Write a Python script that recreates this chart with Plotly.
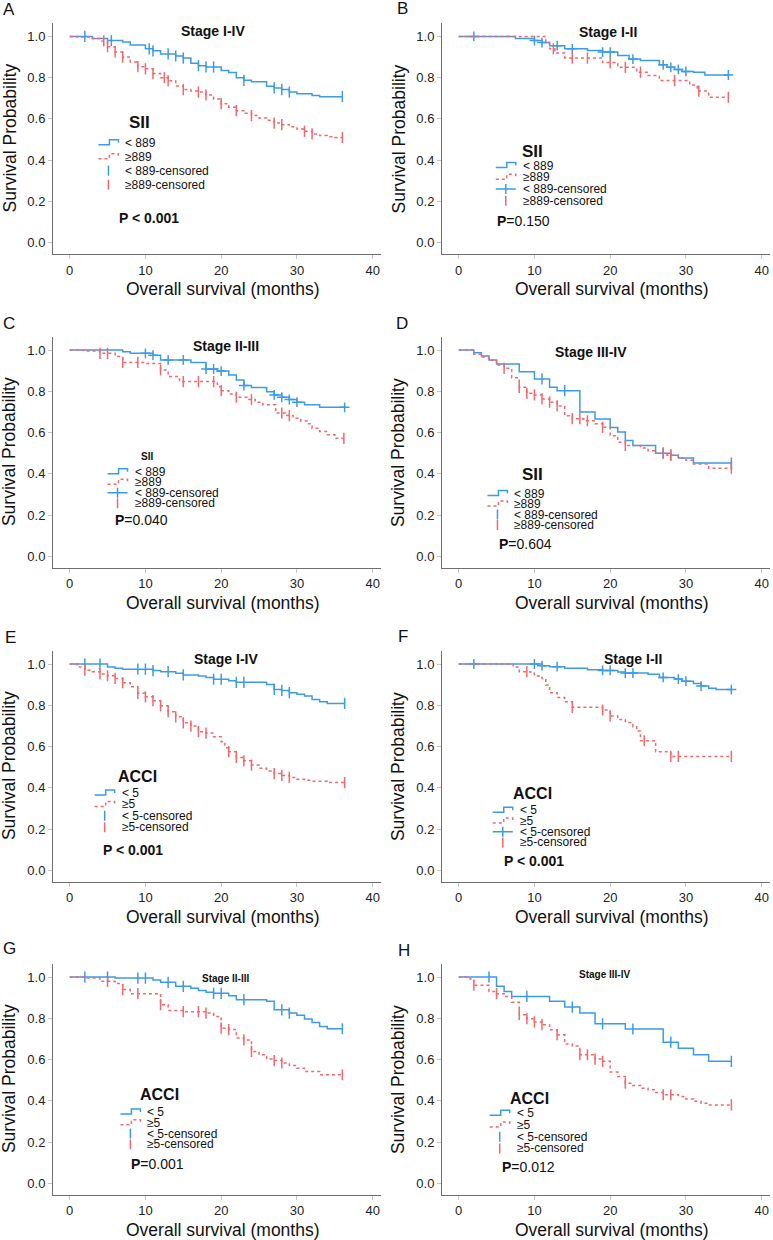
import plotly.graph_objects as go

BLUE = "#3d9be6"
RED = "#f2686c"
FONT = "Arial, 'Liberation Sans', sans-serif"

# ---- A: SII, stage I-IV ----
a_lo_t = [3, 5, 7, 8, 10, 11, 12, 14, 15, 16, 17, 18, 20, 21, 22, 23, 24, 26, 27, 28, 29, 30, 32, 33]
a_lo_s = [0.99, 0.98, 0.973, 0.958, 0.94, 0.93, 0.915, 0.905, 0.895, 0.87, 0.858, 0.852, 0.835, 0.825,
          0.80, 0.787, 0.78, 0.758, 0.75, 0.742, 0.73, 0.722, 0.714, 0.708]
a_lo_c = [2, 5.5, 10.5, 11, 13, 14, 15, 17, 18, 19, 23, 27, 28, 29, 36]
a_hi_t = [1, 3, 4, 5, 6, 7, 8, 9, 10, 11, 12, 13, 14, 15, 16, 17, 18, 19, 20, 21, 22, 23, 24, 25, 26,
          27, 28, 29, 30, 31, 32, 33, 34, 35]
a_hi_s = [0.997, 0.99, 0.978, 0.95, 0.925, 0.90, 0.876, 0.853, 0.843, 0.82, 0.80, 0.785, 0.76, 0.742,
          0.735, 0.73, 0.716, 0.697, 0.674, 0.657, 0.64, 0.627, 0.616, 0.605, 0.593, 0.58, 0.572,
          0.562, 0.551, 0.54, 0.527, 0.519, 0.514, 0.51]
a_hi_c = [4.5, 5, 6, 7, 9, 10, 11, 12.5, 13, 15, 17, 18, 20, 22, 24, 27, 28, 31, 32, 36]

# ---- B: SII, stage I-II ----
b_lo_t = [7.5, 10, 11, 12, 14, 17, 19, 21, 22.5, 24, 26.5, 27.5, 28.5, 29.5, 31, 32.5]
b_lo_s = [0.99, 0.98, 0.97, 0.955, 0.94, 0.932, 0.924, 0.908, 0.89, 0.883, 0.862, 0.85, 0.84, 0.83,
          0.826, 0.813]
b_lo_c = [2, 10, 11, 13, 15, 19, 20, 23, 27, 28, 29, 30, 35.6]
b_hi_t = [11.5, 12, 12.7, 14, 19, 21, 23.5, 25, 26.5, 30.5, 31.5, 33]
b_hi_s = [0.97, 0.94, 0.92, 0.895, 0.873, 0.85, 0.826, 0.81, 0.786, 0.765, 0.735, 0.705]
b_hi_c = [12.5, 15, 17, 20, 22, 24, 28.5, 31.7, 35.6]

# ---- C: SII, stage II-III ----
c_lo_t = [7, 8, 11, 12, 16, 18, 19.5, 21, 22, 23, 24, 26, 27, 28, 29, 30, 31, 33]
c_lo_s = [0.992, 0.984, 0.975, 0.952, 0.94, 0.908, 0.898, 0.879, 0.855, 0.828, 0.818, 0.798, 0.782,
          0.771, 0.76, 0.747, 0.734, 0.722]
c_lo_c = [10, 11, 13, 15, 18, 19, 20, 23, 27, 28, 29, 30, 36.3]
c_hi_t = [2, 4, 6, 7, 10, 12, 13, 14.5, 19.5, 20, 21, 22, 23.5, 24.5, 25.5, 27.2, 28.5, 29.5, 30.5,
          31.5, 32, 33, 34, 35]
c_hi_s = [0.995, 0.984, 0.968, 0.94, 0.935, 0.903, 0.871, 0.847, 0.822, 0.803, 0.787, 0.771, 0.76,
          0.747, 0.734, 0.694, 0.682, 0.669, 0.656, 0.642, 0.621, 0.605, 0.589, 0.572]
c_hi_c = [4, 5, 7, 9, 12, 15, 17, 19, 20, 22, 24, 28, 29, 36.2]

# ---- D: SII, stage III-IV ----
d_lo_t = [2, 3, 4, 5, 8, 10, 12, 13, 16, 18, 20, 21, 22, 23, 26, 28, 29, 31]
d_lo_s = [0.987, 0.971, 0.952, 0.932, 0.895, 0.86, 0.82, 0.803, 0.70, 0.666, 0.624, 0.602, 0.561,
          0.537, 0.50, 0.49, 0.476, 0.452]
d_lo_c = [11, 14, 27, 28, 36]
d_hi_t = [2, 3, 4, 5, 6, 7, 8, 9, 10, 11, 12, 13, 14, 15, 16.5, 18, 19, 20, 21, 22, 24, 25, 26, 27.5,
          29, 30, 31, 33]
d_hi_s = [0.98, 0.966, 0.95, 0.927, 0.911, 0.866, 0.819, 0.79, 0.782, 0.763, 0.747, 0.729, 0.681,
          0.667, 0.657, 0.642, 0.625, 0.584, 0.553, 0.537, 0.525, 0.512, 0.50, 0.49, 0.476, 0.465,
          0.447, 0.427]
d_hi_c = [6, 8, 9, 10, 11, 12, 13, 15, 16, 17, 19, 22, 27, 28, 36]

# ---- E: ACCI, stage I-IV ----
e_lo_t = [5, 6, 7, 11, 12, 14, 15, 17, 18, 19, 21, 22, 26, 27, 28, 29, 30, 31, 32, 33, 34]
e_lo_s = [0.985, 0.98, 0.975, 0.968, 0.963, 0.955, 0.947, 0.942, 0.935, 0.926, 0.919, 0.911, 0.901,
          0.877, 0.872, 0.861, 0.853, 0.845, 0.828, 0.817, 0.809]
e_lo_c = [2, 4, 9, 10, 11, 13, 15, 19, 20, 22, 23, 27, 28, 29, 36.3]
e_hi_t = [1, 2, 3, 4, 5, 6, 7, 8, 9, 10, 11, 12, 13, 14, 15, 16, 17, 18, 19, 20, 20.5, 21, 22, 23, 24,
          25, 26, 27, 28, 29, 30, 31, 32, 34]
e_hi_s = [0.985, 0.97, 0.963, 0.952, 0.943, 0.93, 0.909, 0.89, 0.858, 0.841, 0.822, 0.798, 0.769,
          0.744, 0.715, 0.699, 0.672, 0.665, 0.647, 0.623, 0.594, 0.575, 0.547, 0.531, 0.51, 0.494,
          0.481, 0.469, 0.46, 0.45, 0.441, 0.436, 0.432, 0.425]
e_hi_c = [2, 4, 5, 6, 7, 9, 10, 11, 12, 13, 14, 15, 16, 17, 18, 21, 22, 23, 24, 27, 28, 29, 36.3]

# ---- F: ACCI, stage I-II ----
f_lo_t = [11, 12, 14, 17, 19, 21, 22, 25, 26.5, 28.5, 29.5, 31, 32, 33, 34]
f_lo_s = [0.992, 0.987, 0.98, 0.972, 0.969, 0.961, 0.956, 0.95, 0.935, 0.927, 0.917, 0.906, 0.893,
          0.882, 0.876]
f_lo_c = [2, 10, 11, 13, 19, 20, 22, 23, 27, 29, 30, 32, 36]
f_hi_t = [7.2, 8, 9.5, 10, 11, 11.5, 12, 13, 14, 15, 19, 20, 21, 22, 23, 23.5, 24, 26, 28]
f_hi_s = [0.985, 0.963, 0.955, 0.942, 0.93, 0.898, 0.861, 0.838, 0.817, 0.79, 0.777, 0.748, 0.731,
          0.717, 0.696, 0.675, 0.628, 0.574, 0.552]
f_hi_c = [9, 15, 19, 20, 24.5, 28, 29, 36]

# ---- G: ACCI, stage II-III ----
g_lo_t = [6, 11, 12, 14, 16, 17, 18, 19, 21, 22, 26, 27, 29, 30, 31, 32, 33, 34]
g_lo_s = [0.995, 0.985, 0.974, 0.955, 0.945, 0.935, 0.926, 0.921, 0.909, 0.89, 0.882, 0.841, 0.825,
          0.814, 0.796, 0.78, 0.76, 0.749]
g_lo_c = [2, 5, 9, 10, 13, 15, 19, 20, 23, 28, 29, 36]
g_hi_t = [2, 4, 6, 7, 8, 12, 13, 15, 18, 19, 20, 21, 22, 23, 24, 25, 26, 27, 28, 29, 30, 31, 33]
g_hi_s = [0.995, 0.979, 0.968, 0.939, 0.919, 0.866, 0.838, 0.832, 0.825, 0.809, 0.752, 0.745, 0.704,
          0.695, 0.639, 0.623, 0.602, 0.595, 0.583, 0.571, 0.558, 0.542, 0.526]
g_hi_c = [5, 7, 9, 12, 15, 17, 18, 20, 21, 23, 24, 27, 28, 36]

# ---- H: ACCI, stage III-IV ----
h_lo_t = [5, 6, 7, 12, 14, 16, 18, 22, 27, 29, 31, 33]
h_lo_s = [0.955, 0.93, 0.906, 0.882, 0.854, 0.825, 0.773, 0.748, 0.684, 0.655, 0.623, 0.591]
h_lo_c = [4, 9, 15, 19, 23, 28, 36]
h_hi_t = [1.5, 2, 4, 5, 6, 7, 8, 9, 10, 11, 12, 13, 14, 15, 16, 18, 19, 20, 21, 22, 23, 24, 25, 26,
          27, 29, 30, 31, 32, 33]
h_hi_s = [0.99, 0.96, 0.93, 0.919, 0.905, 0.877, 0.817, 0.798, 0.782, 0.769, 0.744, 0.72, 0.675,
          0.665, 0.623, 0.602, 0.591, 0.539, 0.518, 0.485, 0.474, 0.461, 0.453, 0.44, 0.429, 0.421,
          0.409, 0.397, 0.388, 0.38]
h_hi_c = [2, 5, 8, 9, 10, 11, 13, 16, 17, 18, 19, 22, 27, 28, 36]

sii_labels = ["< 889", "\u2265889", "< 889-censored", "\u2265889-censored"]
acci_labels = ["< 5", "\u22655", "< 5-censored", "\u22655-censored"]

x_ticks = [0, 10, 20, 30, 40]
y_ticks = [0.0, 0.2, 0.4, 0.6, 0.8, 1.0]

# layout of each panel (positions in data units of that panel)
panels = [
    dict(label="A", lo=(a_lo_t, a_lo_s, a_lo_c), hi=(a_hi_t, a_hi_s, a_hi_c), cross=False,
         stage="Stage I-IV", stage_pos=(18.9, 1.024), stage_size=14,
         var="SII", var_pos=(9.2, 0.583), var_size=17, labels=sii_labels,
         leg=(7.1, 0.485, 0.068), p="<b>P < 0.001</b>", p_pos=(6.2, 0.121), lab_px=(9, 10)),
    dict(label="B", lo=(b_lo_t, b_lo_s, b_lo_c), hi=(b_hi_t, b_hi_s, b_hi_c), cross=True,
         stage="Stage I-II", stage_pos=(19.7, 1.02), stage_size=14,
         var="SII", var_pos=(9.8, 0.44), var_size=17, labels=sii_labels,
         leg=(8.2, 0.374, 0.057), p="<b>P</b>=0.150", p_pos=(4.75, 0.107), lab_px=(402, 8)),
    dict(label="C", lo=(c_lo_t, c_lo_s, c_lo_c), hi=(c_hi_t, c_hi_s, c_hi_c), cross=True,
         stage="Stage II-III", stage_pos=(20.7, 1.019), stage_size=14,
         var="SII", var_pos=(10.2, 0.483), var_size=10, labels=sii_labels,
         leg=(8.3, 0.41, 0.051), p="<b>P</b>=0.040", p_pos=(5.7, 0.174), lab_px=(9, 323)),
    dict(label="D", lo=(d_lo_t, d_lo_s, d_lo_c), hi=(d_hi_t, d_hi_s, d_hi_c), cross=False,
         stage="Stage III-IV", stage_pos=(17.5, 0.99), stage_size=14,
         var="SII", var_pos=(9.8, 0.396), var_size=17, labels=sii_labels,
         leg=(7.1, 0.304, 0.051), p="<b>P</b>=0.604", p_pos=(5.0, 0.058), lab_px=(402, 323)),
    dict(label="E", lo=(e_lo_t, e_lo_s, e_lo_c), hi=(e_hi_t, e_hi_s, e_hi_c), cross=False,
         stage="Stage I-IV", stage_pos=(20.7, 1.024), stage_size=14,
         var="ACCI", var_pos=(8.9, 0.456), var_size=16, labels=acci_labels,
         leg=(6.6, 0.374, 0.055), p="<b>P < 0.001</b>", p_pos=(4.2, 0.097), lab_px=(10, 637)),
    dict(label="F", lo=(f_lo_t, f_lo_s, f_lo_c), hi=(f_hi_t, f_hi_s, f_hi_c), cross=True,
         stage="Stage I-II", stage_pos=(23.0, 1.024), stage_size=14,
         var="ACCI", var_pos=(9.8, 0.374), var_size=16, labels=acci_labels,
         leg=(7.8, 0.291, 0.052), p="<b>P < 0.001</b>", p_pos=(5.7, 0.044), lab_px=(403, 636)),
    dict(label="G", lo=(g_lo_t, g_lo_s, g_lo_c), hi=(g_hi_t, g_hi_s, g_hi_c), cross=False,
         stage="Stage II-III", stage_pos=(20.6, 0.995), stage_size=10,
         var="ACCI", var_pos=(11.9, 0.432), var_size=16, labels=acci_labels,
         leg=(10.0, 0.345, 0.052), p="<b>P</b>=0.001", p_pos=(7.8, 0.092), lab_px=(9, 948)),
    dict(label="H", lo=(h_lo_t, h_lo_s, h_lo_c), hi=(h_hi_t, h_hi_s, h_hi_c), cross=False,
         stage="Stage III-IV", stage_pos=(19.3, 1.01), stage_size=10,
         var="ACCI", var_pos=(9.4, 0.413), var_size=16, labels=acci_labels,
         leg=(7.4, 0.34, 0.057), p="<b>P</b>=0.012", p_pos=(5.5, 0.078), lab_px=(404, 950)),
]

W, H = 773, 1240
COLS = [(53, 381), (442, 770)]
ROW_TOPS = [23, 336.6, 650.6, 963.6]
ROW_H = 231


def step_at(times, surv, c):
    s = 1.0
    for t, v in zip(times, surv):
        if t <= c:
            s = v
    return s


fig = go.Figure()
annotations = []
shapes = []
layout = {}

for i, p in enumerate(panels):
    n = "" if i == 0 else str(i + 1)
    xa, ya = "x" + n, "y" + n
    col = COLS[i % 2]
    top = ROW_TOPS[i // 2]
    layout["xaxis" + n] = dict(
        domain=[col[0] / W, col[1] / W], anchor=ya, range=[-2.2, 41.1],
        tickvals=x_ticks, showline=True, linecolor="#6e6e6e", linewidth=1,
        ticks="outside", ticklen=4, tickcolor="#c4c4c4", showgrid=False, zeroline=False,
        tickfont=dict(size=13, color="#222"))
    layout["yaxis" + n] = dict(
        domain=[1 - (top + ROW_H) / H, 1 - top / H], anchor=xa, range=[-0.055, 1.065],
        tickvals=y_ticks, tickformat=".1f", showline=True, linecolor="#6e6e6e", linewidth=1,
        ticks="outside", ticklen=4, tickcolor="#c4c4c4", showgrid=False, zeroline=False,
        tickfont=dict(size=13, color="#222"))

    for grp, color, dash in ((p["lo"], BLUE, "solid"), (p["hi"], RED, "3px,3px")):
        times, surv, cens = grp
        end = max(cens)
        fig.add_trace(go.Scatter(
            x=[0] + times + [end], y=[1.0] + surv + [surv[-1]], mode="lines",
            line=dict(color=color, width=1.5, dash=dash, shape="hv"),
            xaxis=xa, yaxis=ya, showlegend=False, hoverinfo="skip"))
        sym = "cross-thin" if (p["cross"] and color == BLUE) else "line-ns"
        fig.add_trace(go.Scatter(
            x=cens, y=[step_at(times, surv, c) for c in cens], mode="markers",
            marker=dict(symbol=sym, size=8 if sym == "line-ns" else 7, color=color,
                        line=dict(color=color, width=1.5)),
            xaxis=xa, yaxis=ya, showlegend=False, hoverinfo="skip"))

    # titles inside the plot
    annotations.append(dict(x=p["stage_pos"][0], y=p["stage_pos"][1], xref=xa, yref=ya,
                            text="<b>%s</b>" % p["stage"], showarrow=False,
                            font=dict(size=p["stage_size"], color="#111")))
    annotations.append(dict(x=p["var_pos"][0], y=p["var_pos"][1], xref=xa, yref=ya,
                            text="<b>%s</b>" % p["var"], showarrow=False,
                            font=dict(size=p["var_size"], color="#111")))
    annotations.append(dict(x=p["p_pos"][0], y=p["p_pos"][1], xref=xa, yref=ya, text=p["p"],
                            showarrow=False, xanchor="left", yanchor="middle",
                            font=dict(size=14, color="#111")))

    # hand-made legend
    lx, ly0, lstep = p["leg"]
    for k, txt in enumerate(p["labels"]):
        ly = ly0 - k * lstep
        annotations.append(dict(x=lx, y=ly, xref=xa, yref=ya, text=txt, showarrow=False,
                                xanchor="left", yanchor="middle",
                                font=dict(size=12, color="#111")))
        base = dict(type="path", xref=xa, yref=ya, xsizemode="pixel", ysizemode="pixel",
                    xanchor=lx, yanchor=ly)
        if k == 0:
            shapes.append(dict(base, path="M-25,-2 H-14 V3 H-5 V0",
                               line=dict(color=BLUE, width=1.5)))
        elif k == 1:
            shapes.append(dict(base, path="M-25,-2 H-14 V3 H-5 V0",
                               line=dict(color=RED, width=1.5, dash="3px,3px")))
        elif k == 2:
            if p["cross"]:
                shapes.append(dict(base, path="M-25,0 H-5 M-15,-5 V5",
                                   line=dict(color=BLUE, width=1.5)))
            else:
                shapes.append(dict(base, path="M-15,-5 V5", line=dict(color=BLUE, width=1.5)))
        else:
            shapes.append(dict(base, path="M-15,-5 V5", line=dict(color=RED, width=1.5)))

    # axis titles
    annotations.append(dict(x=20.2, y=0, xref=xa, yref=ya + " domain", yshift=-35,
                            xanchor="center", yanchor="middle",
                            text="Overall survival (months)", showarrow=False,
                            font=dict(size=17.5, color="#111")))
    annotations.append(dict(x=0, y=0.5, xref=xa + " domain", yref=ya + " domain", xshift=-44,
                            xanchor="center", yanchor="middle",
                            text="Survival Probability", textangle=-90, showarrow=False,
                            font=dict(size=17.5, color="#111")))
    # panel letter
    annotations.append(dict(x=p["lab_px"][0] / W, y=1 - p["lab_px"][1] / H, xref="paper",
                            yref="paper", xanchor="center", yanchor="middle",
                            text=p["label"], showarrow=False,
                            font=dict(size=17, color="#111")))

fig.update_layout(
    width=W, height=H, margin=dict(l=0, r=0, t=0, b=0),
    paper_bgcolor="white", plot_bgcolor="white",
    font=dict(family=FONT, color="#111"),
    annotations=annotations, shapes=shapes, **layout)

# the page body has a default 8px margin; drop it so the figure fills the window
fig.write_html("out.html", config={"displayModeBar": False},
               post_script="document.body.style.margin='0px';")
